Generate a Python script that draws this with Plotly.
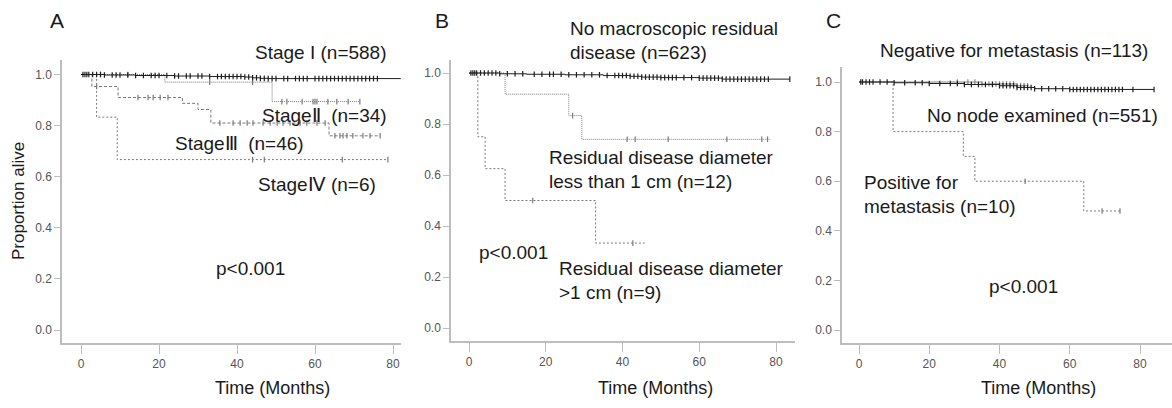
import plotly.graph_objects as go

W, H = 1172, 408

# ---------------- data ----------------
# Panel A (stage)
a_stage1_t = [0, 6, 14, 24, 33, 42, 44, 46, 48, 82]
a_stage1_s = [1.0, 0.998, 0.996, 0.994, 0.992, 0.990, 0.987, 0.985, 0.984, 0.984]
a_stage1_c = [0.5, 1, 1.5, 2, 3, 4, 5, 6, 8, 9, 10, 12, 14, 16, 18, 19, 20, 22, 24, 25, 27, 28, 30,
              31, 33, 35, 36, 37, 38, 39, 40, 41, 42, 43, 44, 45, 46, 47, 48, 49, 50, 52, 53, 55, 56,
              57, 58, 60, 61, 62, 63, 64, 65, 66, 67, 68, 69, 70, 71, 72, 73, 74, 75, 76]
a_stage2_t = [0, 21.5, 49, 71.5]
a_stage2_s = [1.0, 0.97, 0.894, 0.894]
a_stage2_c = [5, 12, 33, 44, 51.5, 52.8, 56.7, 59.5, 60, 60.5, 63.3, 65.6, 68.5, 71.5]
a_stage3_t = [0, 2.8, 9.5, 26, 30, 33.3, 63.6, 76.7]
a_stage3_s = [1.0, 0.953, 0.91, 0.887, 0.863, 0.81, 0.76, 0.76]
a_stage3_c = [4, 14.6, 17.2, 18.5, 20.3, 22.3, 35.6, 39, 40.8, 42.6, 44.1, 46.7, 48.5, 50.3, 51.8,
              53.6, 56.2, 57.9, 60.5, 62.6, 65.1, 66.4, 67.2, 68.2, 69.7, 72.3, 74.1, 76.7]
a_stage4_t = [0, 4, 9.3, 78.7]
a_stage4_s = [1.0, 0.833, 0.667, 0.667]
a_stage4_c = [44, 47, 67, 78.7]

# Panel B (residual disease)
b_none_t = [0, 8, 15, 25, 35, 42, 45, 50, 60, 66, 83.6]
b_none_s = [1.0, 0.997, 0.995, 0.993, 0.990, 0.987, 0.984, 0.982, 0.980, 0.976, 0.976]
b_none_c = [0.5, 1, 1.5, 2, 3, 4, 5, 6, 7, 8, 10, 12, 14, 17, 19, 21, 22, 24, 26, 28, 30, 32, 34,
            36, 38, 39, 40, 41, 42, 43, 44, 45, 46, 47, 48, 49, 50, 51, 52, 53, 54, 56, 58, 60, 61,
            62, 63, 64, 65, 66, 67, 68, 69, 70, 71, 72, 73, 74, 75, 76, 77, 78, 83.6]
b_small_t = [0, 9.4, 26, 29.4, 78.5]
b_small_s = [1.0, 0.917, 0.833, 0.74, 0.74]
b_small_c = [27, 41.2, 43.3, 51.9, 67.2, 76.3, 77.8]
b_large_t = [0, 2.3, 4.2, 9.4, 33, 45.8]
b_large_s = [1.0, 0.75, 0.625, 0.5, 0.333, 0.333]
b_large_c = [16.6, 42.7]

# Panel C (lymph nodes)
c_nonode_t = [0, 10, 20, 30, 40, 45, 50, 60, 84]
c_nonode_s = [1.0, 0.997, 0.994, 0.990, 0.985, 0.978, 0.973, 0.970, 0.970]
c_nonode_c = [0.5, 1, 2, 3, 4, 6, 8, 10, 13, 16, 18, 20, 23, 26, 28, 30, 32, 34, 36, 38, 40, 41,
              42, 43, 44, 45, 46, 47, 48, 49, 50, 52, 54, 56, 58, 60, 61, 62, 63, 64, 65, 66, 67,
              68, 69, 70, 71, 72, 73, 74, 75, 78, 84]
c_neg_t = [0, 35, 45, 48]
c_neg_s = [1.0, 0.992, 0.985, 0.985]
c_neg_c = [28, 31, 33, 35, 37, 38, 39, 40, 41, 42, 43, 44, 45, 46, 47, 48]
c_pos_t = [0, 9.7, 29.7, 33, 64, 74.3]
c_pos_s = [1.0, 0.8, 0.7, 0.6, 0.48, 0.48]
c_pos_c = [47.3, 69.2, 74.3]

y_ticks = [0.0, 0.2, 0.4, 0.6, 0.8, 1.0]
x_ticks = [0, 20, 40, 60, 80]


def surv_at(ts, ss, t):
    val = ss[0]
    for ti, si in zip(ts, ss):
        if ti <= t:
            val = si
    return val


DARK = "#1e1e1e"
GREY = "#7a7a7a"

fig = go.Figure()


def add_curve(ts, ss, cens, xa, ya, color, dash, width=1.0):
    fig.add_trace(go.Scatter(x=ts, y=ss, mode="lines", line=dict(color=color, dash=dash, width=width,
                             shape="hv"), xaxis=xa, yaxis=ya, showlegend=False, hoverinfo="skip"))
    fig.add_trace(go.Scatter(x=cens, y=[surv_at(ts, ss, c) for c in cens], mode="markers",
                             marker=dict(symbol="line-ns-open", size=4, color=color,
                                         line=dict(color=color, width=1.2)),
                             xaxis=xa, yaxis=ya, showlegend=False, hoverinfo="skip"))


# Panel A
add_curve(a_stage4_t, a_stage4_s, a_stage4_c, "x", "y", GREY, "2px,2px")
add_curve(a_stage3_t, a_stage3_s, a_stage3_c, "x", "y", GREY, "3px,2px")
add_curve(a_stage2_t, a_stage2_s, a_stage2_c, "x", "y", GREY, "1px,1px")
add_curve(a_stage1_t, a_stage1_s, a_stage1_c, "x", "y", DARK, "solid")
# Panel B
add_curve(b_large_t, b_large_s, b_large_c, "x2", "y2", GREY, "2px,2px")
add_curve(b_small_t, b_small_s, b_small_c, "x2", "y2", GREY, "1px,1px")
add_curve(b_none_t, b_none_s, b_none_c, "x2", "y2", DARK, "solid")
# Panel C
add_curve(c_pos_t, c_pos_s, c_pos_c, "x3", "y3", GREY, "2px,2px")
add_curve(c_neg_t, c_neg_s, c_neg_c, "x3", "y3", "#888888", "solid")
add_curve(c_nonode_t, c_nonode_s, c_nonode_c, "x3", "y3", DARK, "solid")


def px(x):
    return x / W


def py(y):
    return 1 - y / H


TICKFONT = dict(family="Liberation Sans Narrow, Liberation Sans, Arial", size=12, color="#555555")
AXC = "#bdbdbd"


def xaxis(l, r, x0, x80, anchor):
    per = (x80 - x0) / 80.0
    return dict(domain=[px(l), px(r)], range=[(l - x0) / per, (r - x0) / per], anchor=anchor,
                showline=True, linecolor=AXC, linewidth=1.5, ticks="outside", ticklen=9,
                tickcolor=AXC, tickwidth=1, tickvals=x_ticks, tickfont=TICKFONT,
                showgrid=False, zeroline=False)


def yaxis(t, b, y1, y0, anchor):
    per = (y0 - y1)
    return dict(domain=[py(b), py(t)], range=[(y0 - b) / per, (y0 - t) / per], anchor=anchor,
                showline=True, linecolor=AXC, linewidth=1.5, ticks="outside", ticklen=6,
                tickcolor=AXC, tickwidth=1, tickvals=y_ticks, tickformat=".1f",
                tickfont=TICKFONT, showgrid=False, zeroline=False)


fig.update_layout(
    width=W, height=H, margin=dict(l=0, r=0, t=0, b=0),
    paper_bgcolor="white", plot_bgcolor="white",
    xaxis=xaxis(62, 401, 81, 393, "y"),
    yaxis=yaxis(60, 343, 74.5, 330, "x"),
    xaxis2=xaxis(451, 795, 469, 776, "y2"),
    yaxis2=yaxis(60, 341, 73, 328, "x2"),
    xaxis3=xaxis(842, 1172, 859, 1140, "y3"),
    yaxis3=yaxis(67, 343, 82, 330, "x3"),
)

TXT = dict(family="Liberation Sans, Arial", size=19, color="#1a1a1a")
NB = "\u00a0"
anns = [
    # panel letters
    ("A", 57, 20, "center", dict(TXT, size=21)),
    ("B", 442, 20, "center", dict(TXT, size=21)),
    ("C", 833, 20, "center", dict(TXT, size=21)),
    # panel A
    ("Stage I" + NB + "(n=588)", 389, 53, "right", TXT),
    ("Stage\u2161" + NB + NB + "(n=34)", 389, 115, "right", TXT),
    ("Stage\u2162" + NB + NB + "(n=46)", 306, 143, "right", TXT),
    ("Stage\u2163" + NB + "(n=6)", 378, 185, "right", TXT),
    ("p<0.001", 214, 268, "left", TXT),
    ("Time (Months)", 272, 388, "center", dict(TXT, size=18)),
    # panel B
    ("No macroscopic residual", 568, 29, "left", TXT),
    ("disease (n=623)", 568, 53, "left", TXT),
    ("Residual disease diameter", 547, 157, "left", TXT),
    ("less than 1 cm (n=12)", 547, 181, "left", TXT),
    ("p<0.001", 477, 252, "left", TXT),
    ("Residual disease diameter", 557, 268, "left", TXT),
    (">1 cm (n=9)", 557, 292, "left", TXT),
    ("Time (Months)", 655, 388, "center", dict(TXT, size=18)),
    # panel C
    ("Negative for metastasis (n=113)", 1150, 50, "right", TXT),
    ("No node examined (n=551)", 1160, 115, "right", TXT),
    ("Positive for", 862, 182, "left", TXT),
    ("metastasis (n=10)", 862, 206, "left", TXT),
    ("p<0.001", 987, 286, "left", TXT),
    ("Time (Months)", 1038, 388, "center", dict(TXT, size=18)),
]
for text, x, y, anc, font in anns:
    fig.add_annotation(text=text, x=px(x), y=py(y), xref="paper", yref="paper",
                       xanchor=anc, yanchor="middle", showarrow=False, font=font)

fig.add_annotation(text="Proportion alive", x=px(18), y=py(201), xref="paper", yref="paper",
                   textangle=-90, xanchor="center", yanchor="middle", showarrow=False,
                   font=dict(TXT, size=17))

fig.write_html("out.html")
